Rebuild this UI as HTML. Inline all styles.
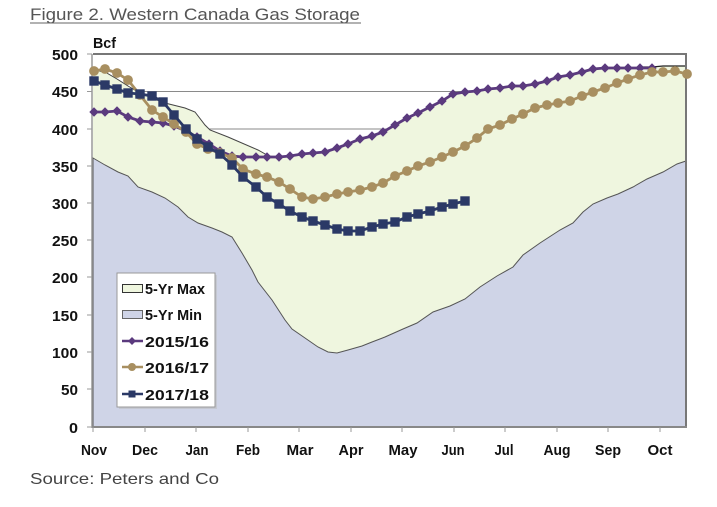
<!DOCTYPE html>
<html><head><meta charset="utf-8"><style>
html,body{margin:0;padding:0;background:#fff;}
svg{display:block;}
text{font-family:"Liberation Sans",Arial,sans-serif;}
.b{font-weight:bold;font-size:15px;fill:#111;}
</style></head><body>
<svg width="717" height="507" viewBox="0 0 717 507" xmlns="http://www.w3.org/2000/svg">
<defs>
<marker id="mD" markerUnits="userSpaceOnUse" markerWidth="12" markerHeight="12" refX="6" refY="6" overflow="visible"><polygon points="6,1.3 10.7,6 6,10.7 1.3,6" fill="#5b3a7e"/></marker>
<marker id="mC" markerUnits="userSpaceOnUse" markerWidth="12" markerHeight="12" refX="6" refY="6" overflow="visible"><circle cx="6" cy="6" r="4.9" fill="#a88f60"/></marker>
<marker id="mS" markerUnits="userSpaceOnUse" markerWidth="12" markerHeight="12" refX="6" refY="6" overflow="visible"><rect x="1.3" y="1.3" width="9.4" height="9.4" fill="#2b3966"/></marker>
</defs>
<rect width="717" height="507" fill="#fff"/>
<!-- Title -->
<text x="30" y="20" font-size="17" fill="#555" textLength="330" lengthAdjust="spacingAndGlyphs">Figure 2. Western Canada Gas Storage</text>
<line x1="30" y1="23" x2="361" y2="23" stroke="#666" stroke-width="1"/>
<!-- gridlines -->
<g stroke="#8a8a8a" stroke-width="1">
<line x1="93" y1="91.5" x2="686" y2="91.5"/>
<line x1="93" y1="129" x2="686" y2="129"/>
<line x1="93" y1="166" x2="686" y2="166"/>
<line x1="93" y1="203" x2="686" y2="203"/>
</g>
<!-- 5-yr max area -->
<polygon fill="#eff6df" stroke="none" points="93,70 105,72 117,79 128,86 135,90 152,98 165,103 185,108 195,112 205,125 210,130 228,137 258,150 267,155 279,156 290,155 302,153 313,152 325,151 337,147 348,143 360,138 372,135 383,131 395,124 407,117 418,112 430,106 442,100 453,93 465,91 477,90 488,88 500,87 512,85 523,85 535,83 547,80 558,76 570,74 582,71 593,68 605,67 617,67 628,67 640,67 652,67 663,66 686,66 686,427 93,427"/>
<polyline fill="none" stroke="#444" stroke-width="1" points="93,70 105,72 117,79 128,86 135,90 152,98 165,103 185,108 195,112 205,125 210,130 228,137 258,150 267,155"/>
<polyline fill="none" stroke="#222" stroke-width="1.2" points="640,67 652,67 663,66 686,66"/>
<!-- 5-yr min area -->
<polygon fill="#cfd4e7" stroke="#555" stroke-width="1" points="93,158 105,165 118,172 128,176 138,187 152,192 165,198 178,207 188,217 198,223 212,228 222,232 232,237 242,253 252,270 258,282 272,300 285,320 292,329 305,338 318,347 328,352 337,353 348,350 362,346 372,342 385,337 403,329 417,323 433,312 450,306 465,299 480,287 497,276 513,267 523,255 540,243 560,230 573,223 583,212 593,204 607,198 618,194 633,187 647,179 663,172 677,164 686,161 686,427 93,427"/>
<!-- plot border -->
<line x1="93" y1="54" x2="687" y2="54" stroke="#777" stroke-width="2"/>
<line x1="686" y1="54" x2="686" y2="428" stroke="#777" stroke-width="2"/>
<line x1="92" y1="54" x2="92" y2="428" stroke="#999" stroke-width="1.5"/>
<line x1="92" y1="427" x2="687" y2="427" stroke="#888" stroke-width="2"/>
<!-- y ticks -->
<g stroke="#999" stroke-width="1">
<line x1="87" y1="54" x2="92" y2="54"/><line x1="87" y1="91.5" x2="92" y2="91.5"/><line x1="87" y1="129" x2="92" y2="129"/><line x1="87" y1="166" x2="92" y2="166"/><line x1="87" y1="203" x2="92" y2="203"/><line x1="87" y1="240" x2="92" y2="240"/><line x1="87" y1="277" x2="92" y2="277"/><line x1="87" y1="315" x2="92" y2="315"/><line x1="87" y1="352" x2="92" y2="352"/><line x1="87" y1="389" x2="92" y2="389"/><line x1="87" y1="427" x2="92" y2="427"/>
</g>
<!-- x ticks -->
<g stroke="#999" stroke-width="1">
<line x1="93" y1="427" x2="93" y2="432"/><line x1="145" y1="427" x2="145" y2="432"/><line x1="196" y1="427" x2="196" y2="432"/><line x1="248" y1="427" x2="248" y2="432"/><line x1="299" y1="427" x2="299" y2="432"/><line x1="351" y1="427" x2="351" y2="432"/><line x1="402" y1="427" x2="402" y2="432"/><line x1="454" y1="427" x2="454" y2="432"/><line x1="505" y1="427" x2="505" y2="432"/><line x1="557" y1="427" x2="557" y2="432"/><line x1="608" y1="427" x2="608" y2="432"/><line x1="660" y1="427" x2="660" y2="432"/>
</g>
<!-- series -->
<polyline fill="none" stroke="#5b3a7e" stroke-width="2.8" marker-start="url(#mD)" marker-mid="url(#mD)" marker-end="url(#mD)" points="94,112 105,112 117,111 128,117 140,121 152,122 163,123 174,126 186,131 197,137 209,144 220,151 232,156 243,157 256,157 267,157 279,157 290,156 302,154 313,153 325,152 337,148 348,144 360,139 372,136 383,132 395,125 407,118 418,113 430,107 442,101 453,94 465,92 477,91 488,89 500,88 512,86 523,86 535,84 547,81 558,77 570,75 582,72 593,69 605,68 617,68 628,68 640,68 652,68"/>
<polyline fill="none" stroke="#a88f60" stroke-width="2.8" marker-start="url(#mC)" marker-mid="url(#mC)" marker-end="url(#mC)" points="94,71 105,69 117,73 128,80 140,95 152,110 163,117 174,124 186,132 197,144 208,149 220,153 232,158 243,169 256,174 267,177 279,182 290,189 302,197 313,199 325,197 337,194 348,192 360,190 372,187 383,183 395,176 407,171 418,166 430,162 442,157 453,152 465,146 477,138 488,129 500,125 512,119 523,114 535,108 547,105 558,103 570,101 582,96 593,92 605,88 617,83 628,79 640,75 652,72 663,72 675,71 687,74"/>
<polyline fill="none" stroke="#2b3966" stroke-width="2.8" marker-start="url(#mS)" marker-mid="url(#mS)" marker-end="url(#mS)" points="94,81 105,85 117,89 128,93 140,94 152,96 163,102 174,115 186,129 197,139 208,147 220,154 232,165 243,177 256,187 267,197 279,204 290,211 302,217 313,221 325,225 337,229 348,231 360,231 372,227 383,224 395,222 407,217 418,214 430,211 442,207 453,204 465,201"/>
<!-- y labels -->
<text x="93" y="48" class="b" font-size="14" textLength="23" lengthAdjust="spacingAndGlyphs">Bcf</text>
<g class="b" text-anchor="end">
<text x="78" y="60" textLength="26" lengthAdjust="spacingAndGlyphs">500</text>
<text x="78" y="97" textLength="26" lengthAdjust="spacingAndGlyphs">450</text>
<text x="78" y="135" textLength="26" lengthAdjust="spacingAndGlyphs">400</text>
<text x="78" y="172" textLength="26" lengthAdjust="spacingAndGlyphs">350</text>
<text x="78" y="209" textLength="26" lengthAdjust="spacingAndGlyphs">300</text>
<text x="78" y="246" textLength="26" lengthAdjust="spacingAndGlyphs">250</text>
<text x="78" y="283" textLength="26" lengthAdjust="spacingAndGlyphs">200</text>
<text x="78" y="321" textLength="26" lengthAdjust="spacingAndGlyphs">150</text>
<text x="78" y="358" textLength="26" lengthAdjust="spacingAndGlyphs">100</text>
<text x="78" y="395" textLength="17" lengthAdjust="spacingAndGlyphs">50</text>
<text x="78" y="433" textLength="9" lengthAdjust="spacingAndGlyphs">0</text>
</g>
<!-- x labels -->
<g class="b" text-anchor="middle">
<text x="94" y="455" textLength="26" lengthAdjust="spacingAndGlyphs">Nov</text>
<text x="145" y="455" textLength="26" lengthAdjust="spacingAndGlyphs">Dec</text>
<text x="197" y="455" textLength="23" lengthAdjust="spacingAndGlyphs">Jan</text>
<text x="248" y="455" textLength="24" lengthAdjust="spacingAndGlyphs">Feb</text>
<text x="300" y="455" textLength="27" lengthAdjust="spacingAndGlyphs">Mar</text>
<text x="351" y="455" textLength="25" lengthAdjust="spacingAndGlyphs">Apr</text>
<text x="403" y="455" textLength="29" lengthAdjust="spacingAndGlyphs">May</text>
<text x="453" y="455" textLength="23" lengthAdjust="spacingAndGlyphs">Jun</text>
<text x="504" y="455" textLength="19" lengthAdjust="spacingAndGlyphs">Jul</text>
<text x="557" y="455" textLength="27" lengthAdjust="spacingAndGlyphs">Aug</text>
<text x="608" y="455" textLength="26" lengthAdjust="spacingAndGlyphs">Sep</text>
<text x="660" y="455" textLength="25" lengthAdjust="spacingAndGlyphs">Oct</text>
</g>
<!-- legend -->
<rect x="119" y="275" width="98" height="134" fill="#bbb" opacity="0.5"/>
<rect x="117" y="273" width="98" height="134" fill="#fff" stroke="#999" stroke-width="1"/>
<rect x="122.5" y="284.5" width="20" height="8" fill="#eff6df" stroke="#333" stroke-width="1"/>
<rect x="122.5" y="310.5" width="20" height="8" fill="#cfd4e7" stroke="#666" stroke-width="1"/>
<line x1="122" y1="341" x2="143" y2="341" stroke="#5b3a7e" stroke-width="2.5"/>
<polygon points="132,337 136,341 132,345 128,341" fill="#5b3a7e"/>
<line x1="122" y1="367" x2="143" y2="367" stroke="#a88f60" stroke-width="2.5"/>
<circle cx="132" cy="367" r="4" fill="#a88f60"/>
<line x1="122" y1="394" x2="143" y2="394" stroke="#2b3966" stroke-width="2.5"/>
<rect x="128.5" y="390.5" width="7" height="7" fill="#2b3966"/>
<g class="b">
<text x="145" y="294" textLength="60" lengthAdjust="spacingAndGlyphs">5-Yr Max</text>
<text x="145" y="320" textLength="57" lengthAdjust="spacingAndGlyphs">5-Yr Min</text>
<text x="145" y="347" textLength="64" lengthAdjust="spacingAndGlyphs">2015/16</text>
<text x="145" y="373" textLength="64" lengthAdjust="spacingAndGlyphs">2016/17</text>
<text x="145" y="400" textLength="64" lengthAdjust="spacingAndGlyphs">2017/18</text>
</g>
<!-- source -->
<text x="30" y="484" font-size="16" fill="#444" textLength="189" lengthAdjust="spacingAndGlyphs">Source: Peters and Co</text>
</svg>
</body></html>
